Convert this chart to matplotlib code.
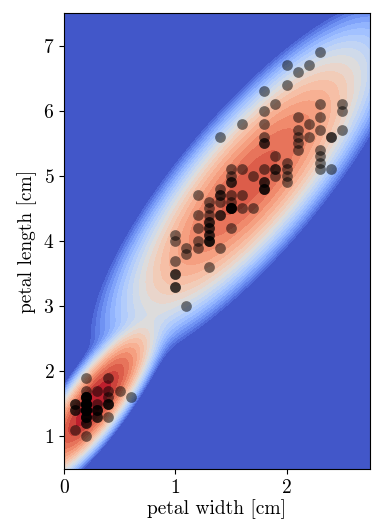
import numpy as np
import matplotlib
matplotlib.use("Agg")
import matplotlib.pyplot as plt

plt.rcParams['font.family'] = 'cmr10'
plt.rcParams['mathtext.fontset'] = 'cm'
plt.rcParams['axes.formatter.use_mathtext'] = True

# iris petal measurements (cm)
petal_length = [
    1.4, 1.4, 1.3, 1.5, 1.4, 1.7, 1.4, 1.5, 1.4, 1.5, 1.5, 1.6, 1.4, 1.1, 1.2, 1.5, 1.3, 1.4, 1.7, 1.5,
    1.7, 1.5, 1.0, 1.7, 1.9, 1.6, 1.6, 1.5, 1.4, 1.6, 1.6, 1.5, 1.5, 1.4, 1.5, 1.2, 1.3, 1.4, 1.3, 1.5,
    1.3, 1.3, 1.3, 1.6, 1.9, 1.4, 1.6, 1.4, 1.5, 1.4,
    4.7, 4.5, 4.9, 4.0, 4.6, 4.5, 4.7, 3.3, 4.6, 3.9, 3.5, 4.2, 4.0, 4.7, 3.6, 4.4, 4.5, 4.1, 4.5, 3.9,
    4.8, 4.0, 4.9, 4.7, 4.3, 4.4, 4.8, 5.0, 4.5, 3.5, 3.8, 3.7, 3.9, 5.1, 4.5, 4.5, 4.7, 4.4, 4.1, 4.0,
    4.4, 4.6, 4.0, 3.3, 4.2, 4.2, 4.2, 4.3, 3.0, 4.1,
    6.0, 5.1, 5.9, 5.6, 5.8, 6.6, 4.5, 6.3, 5.8, 6.1, 5.1, 5.3, 5.5, 5.0, 5.1, 5.3, 5.5, 6.7, 6.9, 5.0,
    5.7, 4.9, 6.7, 4.9, 5.7, 6.0, 4.8, 4.9, 5.6, 5.8, 6.1, 6.4, 5.6, 5.1, 5.6, 6.1, 5.6, 5.5, 4.8, 5.4,
    5.6, 5.1, 5.1, 5.9, 5.7, 5.2, 5.0, 5.2, 5.4, 5.1,
]
petal_width = [
    0.2, 0.2, 0.2, 0.2, 0.2, 0.4, 0.3, 0.2, 0.2, 0.1, 0.2, 0.2, 0.1, 0.1, 0.2, 0.4, 0.4, 0.3, 0.3, 0.3,
    0.2, 0.4, 0.2, 0.5, 0.2, 0.2, 0.4, 0.2, 0.2, 0.2, 0.2, 0.4, 0.1, 0.2, 0.2, 0.2, 0.2, 0.1, 0.2, 0.2,
    0.3, 0.3, 0.2, 0.6, 0.4, 0.3, 0.2, 0.2, 0.2, 0.2,
    1.4, 1.5, 1.5, 1.3, 1.5, 1.3, 1.6, 1.0, 1.3, 1.4, 1.0, 1.5, 1.0, 1.4, 1.3, 1.4, 1.5, 1.0, 1.5, 1.1,
    1.8, 1.3, 1.5, 1.2, 1.3, 1.4, 1.4, 1.7, 1.5, 1.0, 1.1, 1.0, 1.2, 1.6, 1.5, 1.6, 1.5, 1.3, 1.3, 1.3,
    1.2, 1.4, 1.2, 1.0, 1.3, 1.2, 1.3, 1.3, 1.1, 1.3,
    2.5, 1.9, 2.1, 1.8, 2.2, 2.1, 1.7, 1.8, 1.8, 2.5, 2.0, 1.9, 2.1, 2.0, 2.4, 2.3, 1.8, 2.2, 2.3, 1.5,
    2.3, 2.0, 2.0, 1.8, 2.1, 1.8, 1.8, 1.8, 2.1, 1.6, 1.9, 2.0, 2.2, 1.5, 1.4, 2.3, 2.4, 1.8, 1.8, 2.1,
    2.4, 2.3, 1.9, 2.3, 2.5, 2.3, 1.9, 2.0, 2.3, 1.8,
]

X = np.column_stack([petal_width, petal_length])
n = len(X)

# two-cluster mixture with a Wishart-type prior (like a Bayesian GMM)
cov_prior = np.cov(X.T)
mean_prior = X.mean(axis=0)
clusters = [X[X[:, 1] < 2.5], X[X[:, 1] >= 2.5]]

comps = []
for c in clusters:
    nk = len(c)
    xk = c.mean(axis=0)
    sk = np.cov(c.T, bias=True)
    diff = xk - mean_prior
    cov = (cov_prior + nk * sk + nk / (1.0 + nk) * np.outer(diff, diff)) / (2 + nk)
    mu = (mean_prior + nk * xk) / (1.0 + nk)
    comps.append((nk / n, mu, cov))

xx, yy = np.meshgrid(np.linspace(0, 2.75, 300), np.linspace(0.5, 7.5, 400))
grid = np.column_stack([xx.ravel(), yy.ravel()])
dens = np.zeros(len(grid))
for wk, mu, cov in comps:
    d = grid - mu
    m = np.einsum('ij,jk,ik->i', d, np.linalg.inv(cov), d)
    dens += wk * np.exp(-0.5 * m) / (2 * np.pi * np.sqrt(np.linalg.det(cov)))
logd = np.log(dens).reshape(xx.shape)

floor = -6.5
Z = np.maximum(logd, floor)

fig = plt.figure(figsize=(3.82, 5.25), dpi=100)
ax = fig.add_axes([0.1675, 0.1067, 0.8011, 0.8683])
ax.contourf(xx, yy, Z, levels=np.linspace(floor, Z.max(), 22), cmap='coolwarm')
ax.scatter(petal_width, petal_length, s=60, color='black', alpha=0.5, linewidths=0)

ax.set_xlim(0, 2.75)
ax.set_ylim(0.5, 7.5)
ax.set_xticks([0, 1, 2])
ax.set_yticks([1, 2, 3, 4, 5, 6, 7])
ax.tick_params(labelsize=14)
ax.set_xlabel('petal width [cm]', fontsize=14, labelpad=2)
ax.set_ylabel('petal length [cm]', fontsize=14)

fig.savefig('out.png', dpi=100)
